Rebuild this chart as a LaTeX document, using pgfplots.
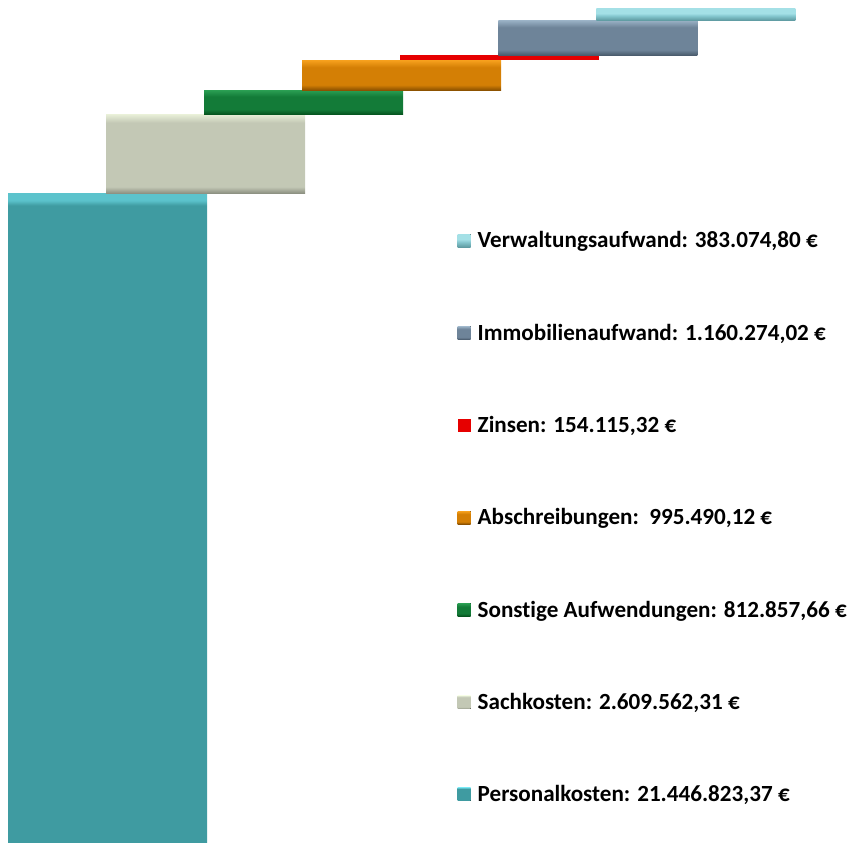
\documentclass[border=0pt]{standalone}
\usepackage{fontspec}
\setmainfont{Carlito}[Ligatures=NoCommon]
\usepackage{pgfplots}
\pgfplotsset{compat=1.18}
\definecolor{cPers}{HTML}{3F9BA1}
\definecolor{cPersL}{HTML}{5CC3CC}
\definecolor{cSach}{HTML}{C3C8B5}
\definecolor{cSachL}{HTML}{E6EDD6}
\definecolor{cSachD}{HTML}{878B7C}
\definecolor{cSonst}{HTML}{137B38}
\definecolor{cSonstL}{HTML}{2A9E52}
\definecolor{cSonstD}{HTML}{044F1C}
\definecolor{cAbsch}{HTML}{D47F05}
\definecolor{cAbschL}{HTML}{F7A11E}
\definecolor{cAbschD}{HTML}{8A5000}
\definecolor{cZins}{HTML}{E60000}
\definecolor{cImmo}{HTML}{6E8499}
\definecolor{cImmoL}{HTML}{9AB2C6}
\definecolor{cImmoD}{HTML}{48596A}
\definecolor{cVerw}{HTML}{86C8D0}
\definecolor{cVerwL}{HTML}{A4E0E6}
\definecolor{cVerwD}{HTML}{5E9AA1}
\pgfdeclareverticalshading{shPers}{100bp}{color(0bp)=(cPers); color(74.1bp)=(cPers); color(74.5bp)=(cPersL); color(100bp)=(cPersL)}
\pgfdeclareverticalshading{shSach}{100bp}{color(0bp)=(cSachD); color(25bp)=(cSachD); color(29.5bp)=(cSach); color(70bp)=(cSach); color(75bp)=(cSachL); color(100bp)=(cSachL)}
\pgfdeclareverticalshading{shSonst}{100bp}{color(0bp)=(cSonstD); color(25bp)=(cSonstD); color(36bp)=(cSonst); color(62bp)=(cSonst); color(75bp)=(cSonstL); color(100bp)=(cSonstL)}
\pgfdeclareverticalshading{shAbsch}{100bp}{color(0bp)=(cAbschD); color(25bp)=(cAbschD); color(34bp)=(cAbsch); color(63bp)=(cAbsch); color(75bp)=(cAbschL); color(100bp)=(cAbschL)}
\pgfdeclareverticalshading{shImmo}{100bp}{color(0bp)=(cImmoD); color(25bp)=(cImmoD); color(33bp)=(cImmo); color(65bp)=(cImmo); color(75bp)=(cImmoL); color(100bp)=(cImmoL)}
\pgfdeclareverticalshading{shVerw}{100bp}{color(0bp)=(cVerwD); color(25bp)=(cVerwD); color(45bp)=(cVerw); color(55bp)=(cVerwL); color(75bp)=(cVerwL); color(100bp)=(cVerwL)}
\pgfplotsset{wf/.style={
  scale only axis, width=850bp, height=843bp,
  hide axis, at={(0,0)}, anchor=south west,
  ybar stacked, bar width=199bp,
  xmin=-1.097, xmax=7.572,
  ymin=0, ymax=27.85e6,
}}
\begin{document}
\begin{tikzpicture}
\useasboundingbox (0,0) rectangle (850bp,843bp);
% Personalkosten
\begin{axis}[wf]
\addplot[draw=none, shading=shPers] coordinates {(0,21446823.37)};
\end{axis}
% Sachkosten
\begin{axis}[wf]
\addplot[draw=none, fill=none] coordinates {(1,21446823.37)};
\addplot[draw=none, shading=shSach] coordinates {(1,2609562.31)};
\end{axis}
% Sonstige Aufwendungen
\begin{axis}[wf]
\addplot[draw=none, fill=none] coordinates {(2,24056385.68)};
\addplot[draw=none, shading=shSonst] coordinates {(2,812857.66)};
\end{axis}
% Abschreibungen
\begin{axis}[wf]
\addplot[draw=none, fill=none] coordinates {(3,24869243.34)};
\addplot[draw=none, shading=shAbsch] coordinates {(3,995490.12)};
\end{axis}
% Zinsen
\begin{axis}[wf]
\addplot[draw=none, fill=none] coordinates {(4,25864733.46)};
\addplot[draw=none, fill=cZins] coordinates {(4,154115.32)};
\end{axis}
% Immobilienaufwand
\begin{axis}[wf]
\addplot[draw=none, fill=none] coordinates {(5,26018848.78)};
\addplot[draw=none, shading=shImmo] coordinates {(5,1160274.02)};
\end{axis}
% Verwaltungsaufwand + legend
\begin{axis}[wf,
  legend image code/.code={\fill[#1,draw=none] (0bp,-6.5bp) rectangle (13bp,6.5bp); \path (18.5bp,0bp);},
  legend cell align=left,
  legend style={at={(rel axis cs:0.538,0.7271)}, anchor=north west, draw=none, fill=none,
    font=\bfseries\fontsize{23.2}{27}\selectfont, row sep=71.6bp, inner sep=0pt,
    nodes={inner sep=1.5bp}},
]
\addplot[draw=none, fill=none, forget plot] coordinates {(6,27179122.80)};
\addplot[draw=none, shading=shVerw] coordinates {(6,383074.80)};
\addlegendentry{Verwaltungsaufwand: 383.074,80 €}
\addlegendimage{shading=shImmo}
\addlegendentry{Immobilienaufwand: 1.160.274,02 €}
\addlegendimage{fill=cZins}
\addlegendentry{Zinsen: 154.115,32 €}
\addlegendimage{shading=shAbsch}
\addlegendentry{Abschreibungen:\ \ 995.490,12 €}
\addlegendimage{shading=shSonst}
\addlegendentry{Sonstige Aufwendungen: 812.857,66 €}
\addlegendimage{shading=shSach}
\addlegendentry{Sachkosten: 2.609.562,31 €}
\addlegendimage{shading=shPers}
\addlegendentry{Personalkosten: 21.446.823,37 €}
\end{axis}
\end{tikzpicture}
\end{document}
